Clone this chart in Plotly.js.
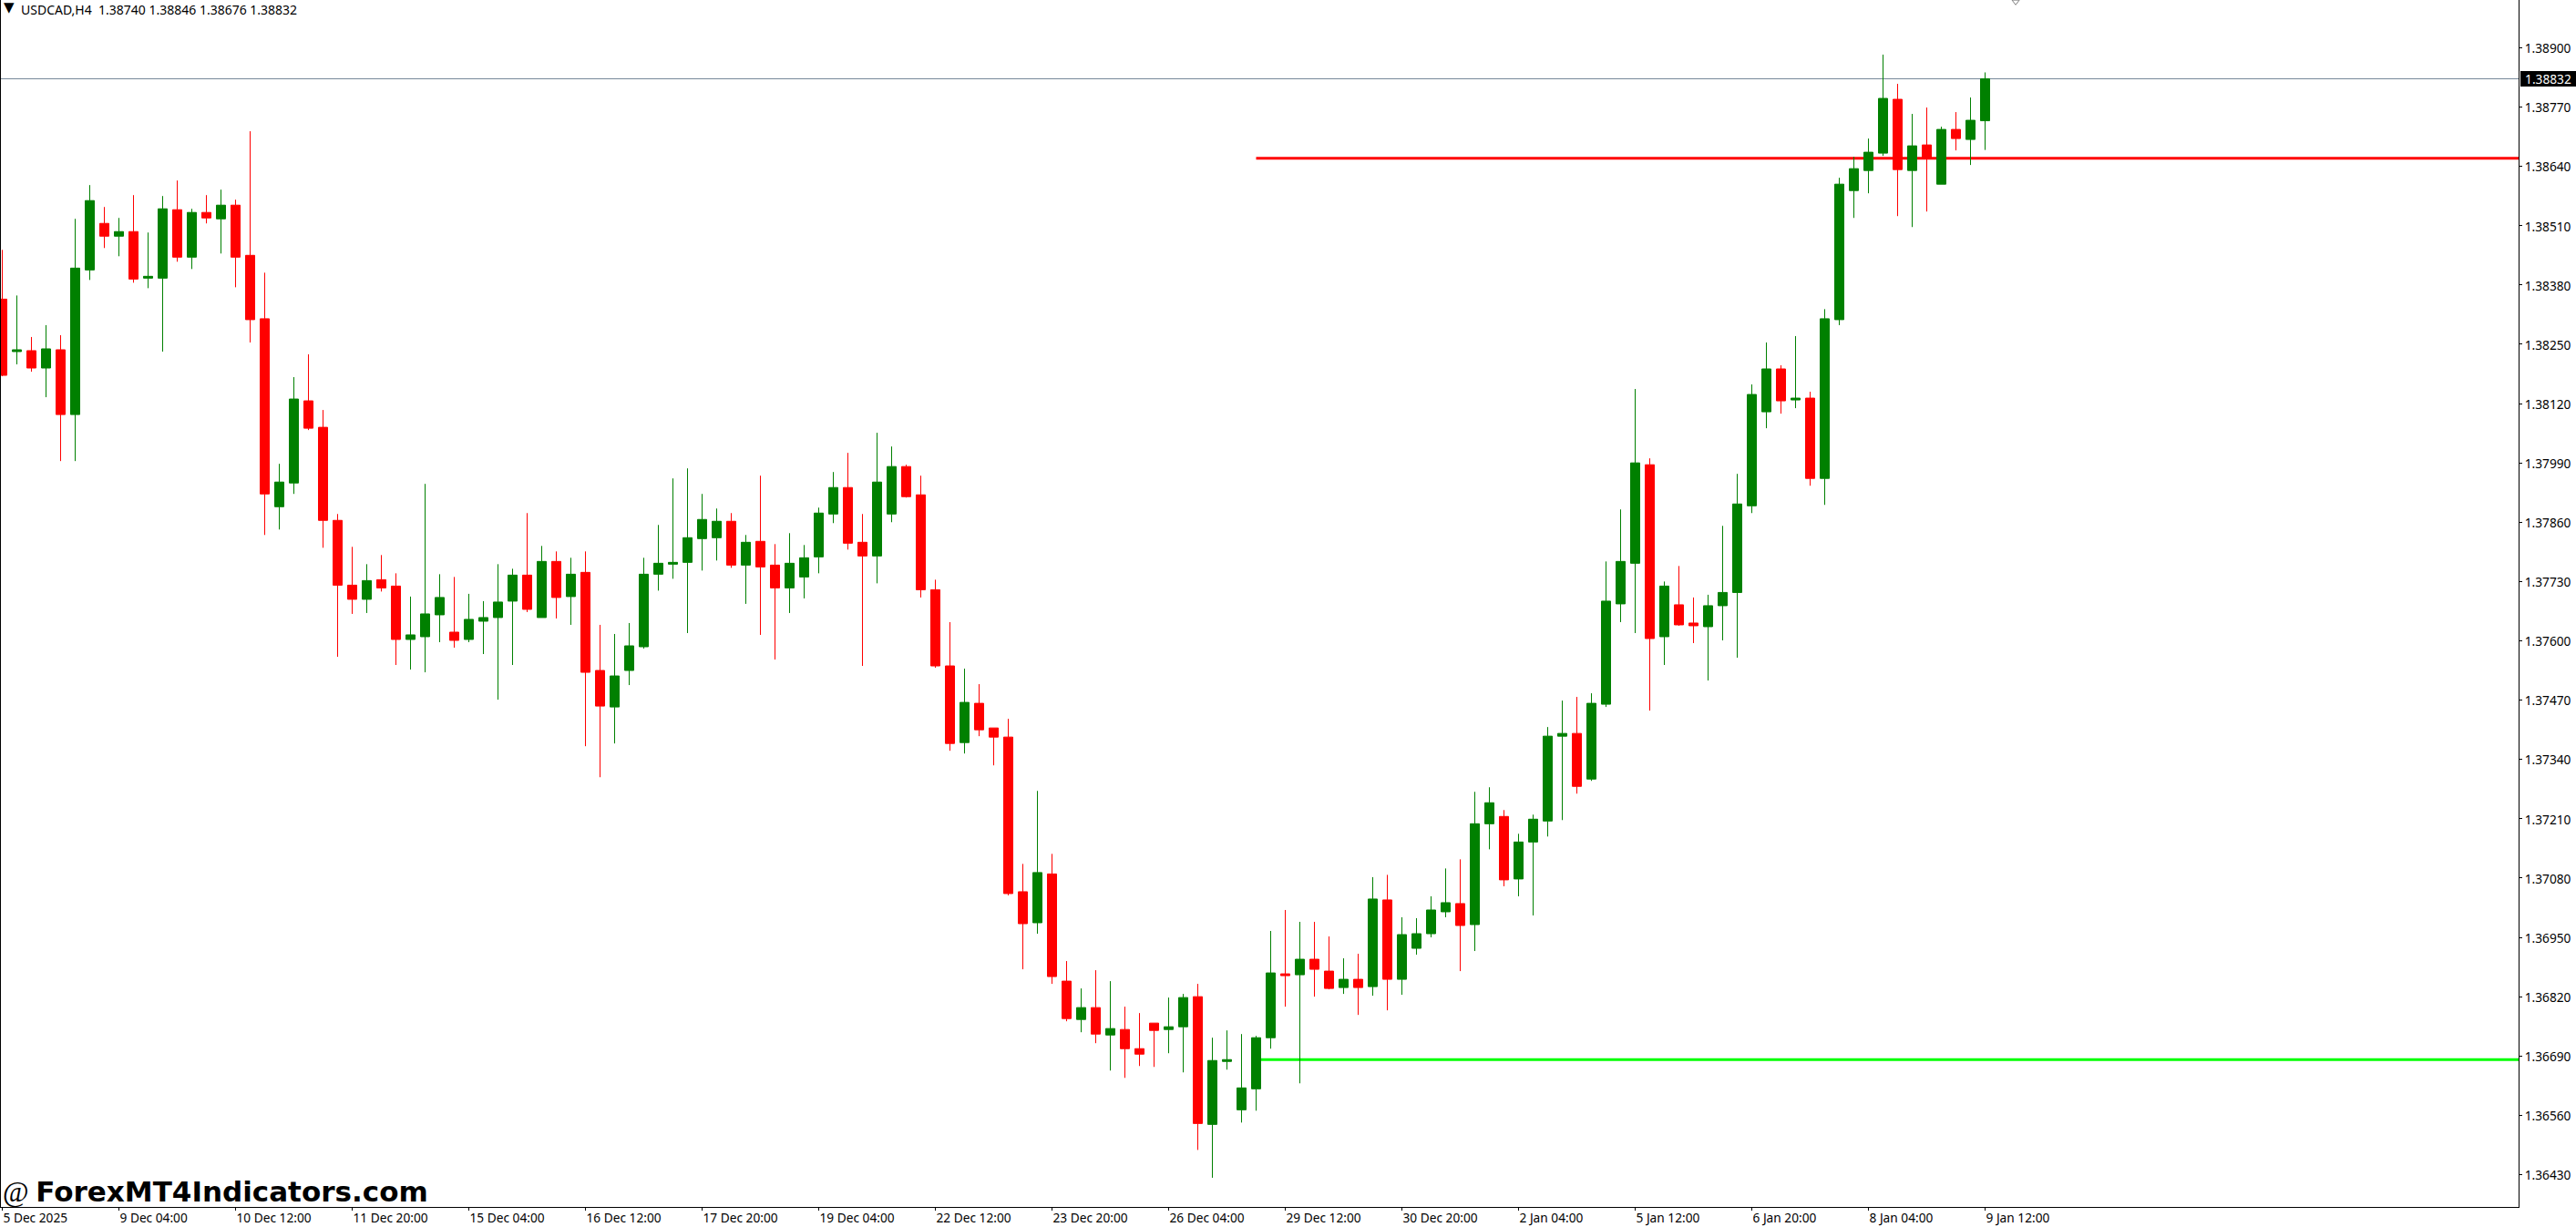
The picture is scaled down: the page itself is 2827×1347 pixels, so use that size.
<!DOCTYPE html>
<html>
<head>
<meta charset="utf-8">
<script src="https://cdn.plot.ly/plotly-3.0.1.min.js"></script>
<style>html,body{margin:0;padding:0;background:#fff;overflow:hidden}</style>
</head>
<body>
<div id="chart" style="width:2827px;height:1347px"></div>
<script>
const symbolTitle = "USDCAD,H4  1.38740 1.38846 1.38676 1.38832";
const watermark = "ForexMT4Indicators.com";

const opens = [
1.38349,1.38234,1.38236,1.38198,1.38238,1.38096,1.38413,1.38515,1.38487,1.38497,
1.38395,1.38395,1.38545,1.38441,1.38539,1.38525,1.38555,1.38445,1.38306,1.37894,
1.37946,1.38126,1.38068,1.37864,1.37722,1.37691,1.37734,1.37720,1.37603,1.37609,
1.37657,1.37619,1.37603,1.37643,1.37651,1.37687,1.37744,1.37651,1.37774,1.37697,
1.37750,1.37535,1.37455,1.37535,1.37587,1.37746,1.37768,1.37772,1.37824,1.37826,
1.37862,1.37766,1.37818,1.37766,1.37716,1.37740,1.37784,1.37878,1.37936,1.37816,
1.37786,1.37878,1.37982,1.37920,1.37712,1.37545,1.37377,1.37463,1.37409,1.37389,
1.37050,1.36982,1.37089,1.36854,1.36770,1.36796,1.36736,1.36748,1.36706,1.36762,
1.36748,1.36754,1.36820,1.36540,1.36678,1.36572,1.36618,1.36730,1.36870,1.36868,
1.36902,1.36876,1.36840,1.36858,1.36842,1.37032,1.36858,1.36926,1.36958,1.37006,
1.37024,1.36978,1.37199,1.37215,1.37078,1.37159,1.37205,1.37391,1.37397,1.37297,
1.37461,1.37681,1.37770,1.37986,1.37609,1.37679,1.37639,1.37631,1.37677,1.37706,
1.37896,1.38102,1.38196,1.38128,1.38132,1.37956,1.38304,1.38587,1.38631,1.38669,
1.38787,1.38631,1.38687,1.38601,1.38721,1.38699,1.38740];
const highs = [
1.38457,1.38357,1.38266,1.38292,1.38270,1.38525,1.38599,1.38551,1.38527,1.38577,
1.38495,1.38575,1.38609,1.38547,1.38577,1.38589,1.38567,1.38717,1.38407,1.37988,
1.38178,1.38228,1.38106,1.37878,1.37806,1.37768,1.37788,1.37748,1.37697,1.37944,
1.37746,1.37740,1.37703,1.37687,1.37768,1.37758,1.37880,1.37808,1.37796,1.37782,
1.37796,1.37635,1.37615,1.37639,1.37782,1.37854,1.37956,1.37978,1.37922,1.37890,
1.37880,1.37832,1.37962,1.37812,1.37836,1.37810,1.37892,1.37970,1.38012,1.37878,
1.38056,1.38026,1.37986,1.37962,1.37734,1.37641,1.37539,1.37505,1.37409,1.37429,
1.37111,1.37271,1.37133,1.36898,1.36838,1.36878,1.36854,1.36798,1.36784,1.36762,
1.36818,1.36826,1.36848,1.36730,1.36746,1.36738,1.36734,1.36964,1.37010,1.36984,
1.36984,1.36952,1.36904,1.36914,1.37082,1.37087,1.36994,1.36992,1.37040,1.37101,
1.37121,1.37269,1.37279,1.37229,1.37177,1.37219,1.37411,1.37469,1.37477,1.37485,
1.37774,1.37888,1.38152,1.38000,1.37730,1.37764,1.37695,1.37701,1.37852,1.37966,
1.38162,1.38254,1.38204,1.38268,1.38146,1.38327,1.38615,1.38661,1.38701,1.38885,
1.38821,1.38755,1.38769,1.38727,1.38759,1.38791,1.38846];
const lows = [
1.38180,1.38206,1.38190,1.38134,1.37994,1.37994,1.38391,1.38461,1.38443,1.38385,
1.38373,1.38234,1.38431,1.38415,1.38515,1.38449,1.38375,1.38254,1.37832,1.37844,
1.37922,1.38062,1.37804,1.37565,1.37659,1.37661,1.37708,1.37547,1.37537,1.37531,
1.37597,1.37585,1.37597,1.37571,1.37471,1.37547,1.37663,1.37651,1.37649,1.37635,
1.37369,1.37301,1.37375,1.37503,1.37583,1.37710,1.37736,1.37617,1.37754,1.37776,
1.37760,1.37681,1.37613,1.37559,1.37661,1.37693,1.37748,1.37858,1.37800,1.37545,
1.37726,1.37860,1.37914,1.37695,1.37541,1.37359,1.37353,1.37391,1.37327,1.37042,
1.36880,1.36958,1.36848,1.36766,1.36742,1.36718,1.36658,1.36642,1.36668,1.36666,
1.36696,1.36654,1.36484,1.36423,1.36660,1.36544,1.36570,1.36706,1.36798,1.36630,
1.36820,1.36836,1.36826,1.36780,1.36822,1.36790,1.36824,1.36912,1.36950,1.36994,
1.36876,1.36920,1.37143,1.37062,1.37040,1.36998,1.37171,1.37207,1.37265,1.37293,
1.37455,1.37641,1.37617,1.37447,1.37547,1.37633,1.37595,1.37513,1.37601,1.37563,
1.37880,1.38066,1.38098,1.38110,1.37940,1.37898,1.38292,1.38527,1.38581,1.38663,
1.38531,1.38507,1.38541,1.38601,1.38675,1.38643,1.38676];
const closes = [
1.38182,1.38238,1.38198,1.38240,1.38096,1.38417,1.38565,1.38487,1.38497,1.38393,
1.38399,1.38547,1.38441,1.38539,1.38527,1.38555,1.38441,1.38304,1.37922,1.37948,
1.38130,1.38066,1.37864,1.37722,1.37691,1.37732,1.37716,1.37603,1.37613,1.37659,
1.37695,1.37601,1.37647,1.37651,1.37685,1.37744,1.37669,1.37774,1.37695,1.37746,
1.37531,1.37457,1.37523,1.37589,1.37746,1.37770,1.37772,1.37826,1.37866,1.37862,
1.37766,1.37816,1.37762,1.37716,1.37770,1.37782,1.37880,1.37936,1.37814,1.37786,
1.37948,1.37982,1.37916,1.37712,1.37545,1.37375,1.37465,1.37405,1.37389,1.37046,
1.36980,1.37092,1.36864,1.36772,1.36796,1.36738,1.36750,1.36706,1.36694,1.36746,
1.36754,1.36818,1.36542,1.36680,1.36682,1.36620,1.36730,1.36872,1.36866,1.36902,
1.36880,1.36838,1.36858,1.36840,1.37034,1.36858,1.36956,1.36958,1.37010,1.37026,
1.36976,1.37199,1.37245,1.37076,1.37159,1.37209,1.37391,1.37397,1.37281,1.37463,
1.37687,1.37774,1.37990,1.37605,1.37720,1.37635,1.37633,1.37677,1.37706,1.37900,
1.38140,1.38196,1.38126,1.38132,1.37956,1.38306,1.38601,1.38635,1.38671,1.38789,
1.38633,1.38685,1.38657,1.38721,1.38701,1.38741,1.38832];

const barIndex = opens.map((_, i) => i);
const xTickIndex = [0,8,16,24,32,40,48,56,64,72,80,88,96,104,112,120,128,136];
const xTickLabels = ["5 Dec 2025","9 Dec 04:00","10 Dec 12:00","11 Dec 20:00","15 Dec 04:00","16 Dec 12:00","17 Dec 20:00","19 Dec 04:00","22 Dec 12:00","23 Dec 20:00","26 Dec 04:00","29 Dec 12:00","30 Dec 20:00","2 Jan 04:00","5 Jan 12:00","6 Jan 20:00","8 Jan 04:00","9 Jan 12:00"];
const yTicks = [1.38900,1.38770,1.38640,1.38510,1.38380,1.38250,1.38120,1.37990,1.37860,1.37730,1.37600,1.37470,1.37340,1.37210,1.37080,1.36950,1.36820,1.36690,1.36560,1.36430];

const bidPrice = 1.38832;
const resistance = 1.38658;
const support = 1.36682;
const levelStartBar = 86.0;
const markerBar = [138.1];
const markerPrice = [1.39001];
const xRange = [-0.09375, 172.59375];
const yRange = [1.363590, 1.390047];

const tickFont = {family: '"Noto Sans", sans-serif', size: 13.7, color: '#000'};

const trace = {
  type: 'candlestick', x: barIndex, open: opens, high: highs, low: lows, close: closes,
  whiskerwidth: 0, hoverinfo: 'skip',
  increasing: {line: {color: '#008000', width: 1}, fillcolor: '#008000'},
  decreasing: {line: {color: '#ff0000', width: 1}, fillcolor: '#ff0000'},
  showlegend: false
};
const topMarker = {
  type: 'scatter', mode: 'markers', x: markerBar, y: markerPrice, hoverinfo: 'skip', showlegend: false,
  marker: {symbol: 'triangle-down-open', size: 7, color: '#808080', line: {color: '#808080', width: 1}}
};

const layout = {
  width: 2827, height: 1347,
  margin: {l: 1, r: 63, t: 0, b: 22, pad: 0},
  paper_bgcolor: '#fff', plot_bgcolor: '#fff',
  boxgap: 0.375, boxgroupgap: 0,
  showlegend: false,
  xaxis: {
    type: 'linear', range: xRange, rangeslider: {visible: false}, autorange: false,
    tickmode: 'array', tickvals: xTickIndex, ticktext: xTickLabels,
    ticks: 'outside', ticklen: 3, tickwidth: 1, tickcolor: '#000',
    ticklabelposition: 'outside right', tickangle: 0,
    showgrid: false, zeroline: false, showline: true, linecolor: '#000', linewidth: 1,
    tickfont: tickFont
  },
  yaxis: {
    side: 'right', range: yRange, autorange: false,
    tickmode: 'array', tickvals: yTicks, ticktext: yTicks.map(v => v.toFixed(5)),
    ticks: 'outside', ticklen: 3, tickwidth: 1, tickcolor: '#000', ticklabelshift: 1,
    showgrid: false, zeroline: false, showline: true, linecolor: '#000', linewidth: 1, mirror: true,
    tickfont: tickFont
  },
  shapes: [
    {type: 'line', layer: 'below', xref: 'x', yref: 'y', x0: xRange[0], x1: xRange[1], y0: bidPrice, y1: bidPrice, line: {color: '#778899', width: 1}},
    {type: 'line', layer: 'below', xref: 'x', yref: 'y', x0: levelStartBar, x1: xRange[1], y0: resistance, y1: resistance, line: {color: '#ff0000', width: 3}},
    {type: 'line', layer: 'below', xref: 'x', yref: 'y', x0: levelStartBar, x1: xRange[1], y0: support, y1: support, line: {color: '#00ff00', width: 3}}
  ],
  annotations: [
    {xref: 'paper', yref: 'paper', x: 0, y: 1, xshift: 21, yshift: 0, xanchor: 'left', yanchor: 'top', showarrow: false,
     text: symbolTitle.replace(/  /g, '&nbsp;&nbsp;'), font: {family: '"Noto Sans", sans-serif', size: 14, color: '#000'}, borderpad: 0},
    {xref: 'paper', yref: 'paper', x: 0, y: 1, xshift: 2, yshift: 2, xanchor: 'left', yanchor: 'top', showarrow: false,
     text: '▼', font: {family: '"DejaVu Sans", sans-serif', size: 15, color: '#000'}, borderpad: 0},
    {xref: 'paper', yref: 'paper', x: 0, y: 0, xshift: 1, yshift: -2, xanchor: 'left', yanchor: 'bottom', showarrow: false,
     text: '@ <span style="font-family:DejaVu Sans;font-weight:bold">' + watermark + '</span>',
     font: {family: '"Liberation Serif", serif', size: 31, color: '#000'}, borderpad: 0},
    {xref: 'paper', yref: 'y', x: 1, y: bidPrice, xshift: 2, xanchor: 'left', yanchor: 'middle', showarrow: false,
     text: bidPrice.toFixed(5), width: 61, height: 17, bgcolor: '#000', align: 'center',
     font: {family: '"Noto Sans", sans-serif', size: 13.7, color: '#fff'}, borderpad: 0, borderwidth: 0}
  ]
};

Plotly.newPlot('chart', [trace, topMarker], layout, {displayModeBar: false, staticPlot: true});
</script>
</body>
</html>
